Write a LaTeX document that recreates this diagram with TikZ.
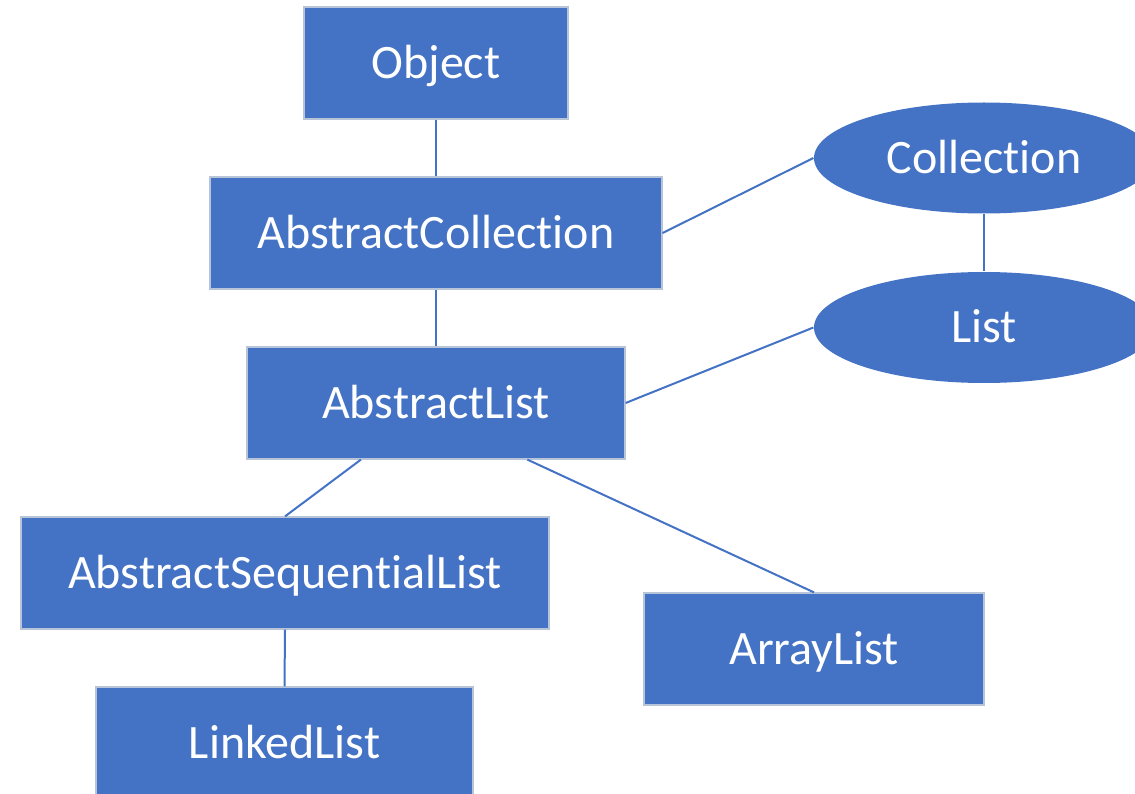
\documentclass[tikz,border=0pt]{standalone}
\usepackage{fontspec}
\setmainfont[Ligatures=NoCommon]{Carlito}
\usetikzlibrary{shapes.geometric,calc}
\definecolor{office}{HTML}{4472C4}
\definecolor{rim}{HTML}{B8C4D8}
\tikzset{
  cls/.style={draw=rim, line width=1.2pt, fill=office, text=white,
    font=\fontsize{48}{52}\selectfont, text height=30.9pt, text depth=0pt,
    inner sep=0pt, minimum height=112pt},
  box/.style={cls, rectangle},
  iface/.style={cls, ellipse, draw=none, minimum height=111pt, minimum width=340pt},
  link/.style={draw=office, line width=2pt}
}
\begin{document}
\begin{tikzpicture}[x=1pt,y=-1pt]
\useasboundingbox (0,0) rectangle (1135,794);
\clip (0,0) rectangle (1135,794);
\fill[white] (0,0) rectangle (1135,794);

% classes
\node[box, minimum width=264pt] (obj) at (436,63) {Object};
\node[box, minimum width=452pt] (ac) at (436,233) {AbstractCollection};
\node[box, minimum width=378pt] (al) at (436,403) {AbstractList};
\node[box, minimum width=528pt] (asl) at (285,573) {AbstractSequentialList};
\node[box, minimum width=377pt] (ll) at (284.5,743) {LinkedList};
\node[box, minimum width=340pt] (arr) at (814,649) {ArrayList};

% interfaces
\node[iface] (coll) at (984,158) {Collection};
\node[iface] (lst) at (984,327.5) {List};

% attachment points on the bottom of AbstractList
\coordinate (alL) at ($(al.south west)!0.302!(al.south east)$);
\coordinate (alR) at ($(al.south west)!0.741!(al.south east)$);

% connectors
\draw[link] (obj.south) -- (ac.north);
\draw[link] (ac.south) -- (al.north);
\draw[link] (ac.east) -- (coll.west);
\draw[link] (coll.south) -- (lst.north);
\draw[link] (al.east) -- (lst.west);
\draw[link] (alL) -- (asl.north);
\draw[link] (alR) -- (arr.north);
\draw[link] (asl.south) -- (ll.north);
\end{tikzpicture}
\end{document}
